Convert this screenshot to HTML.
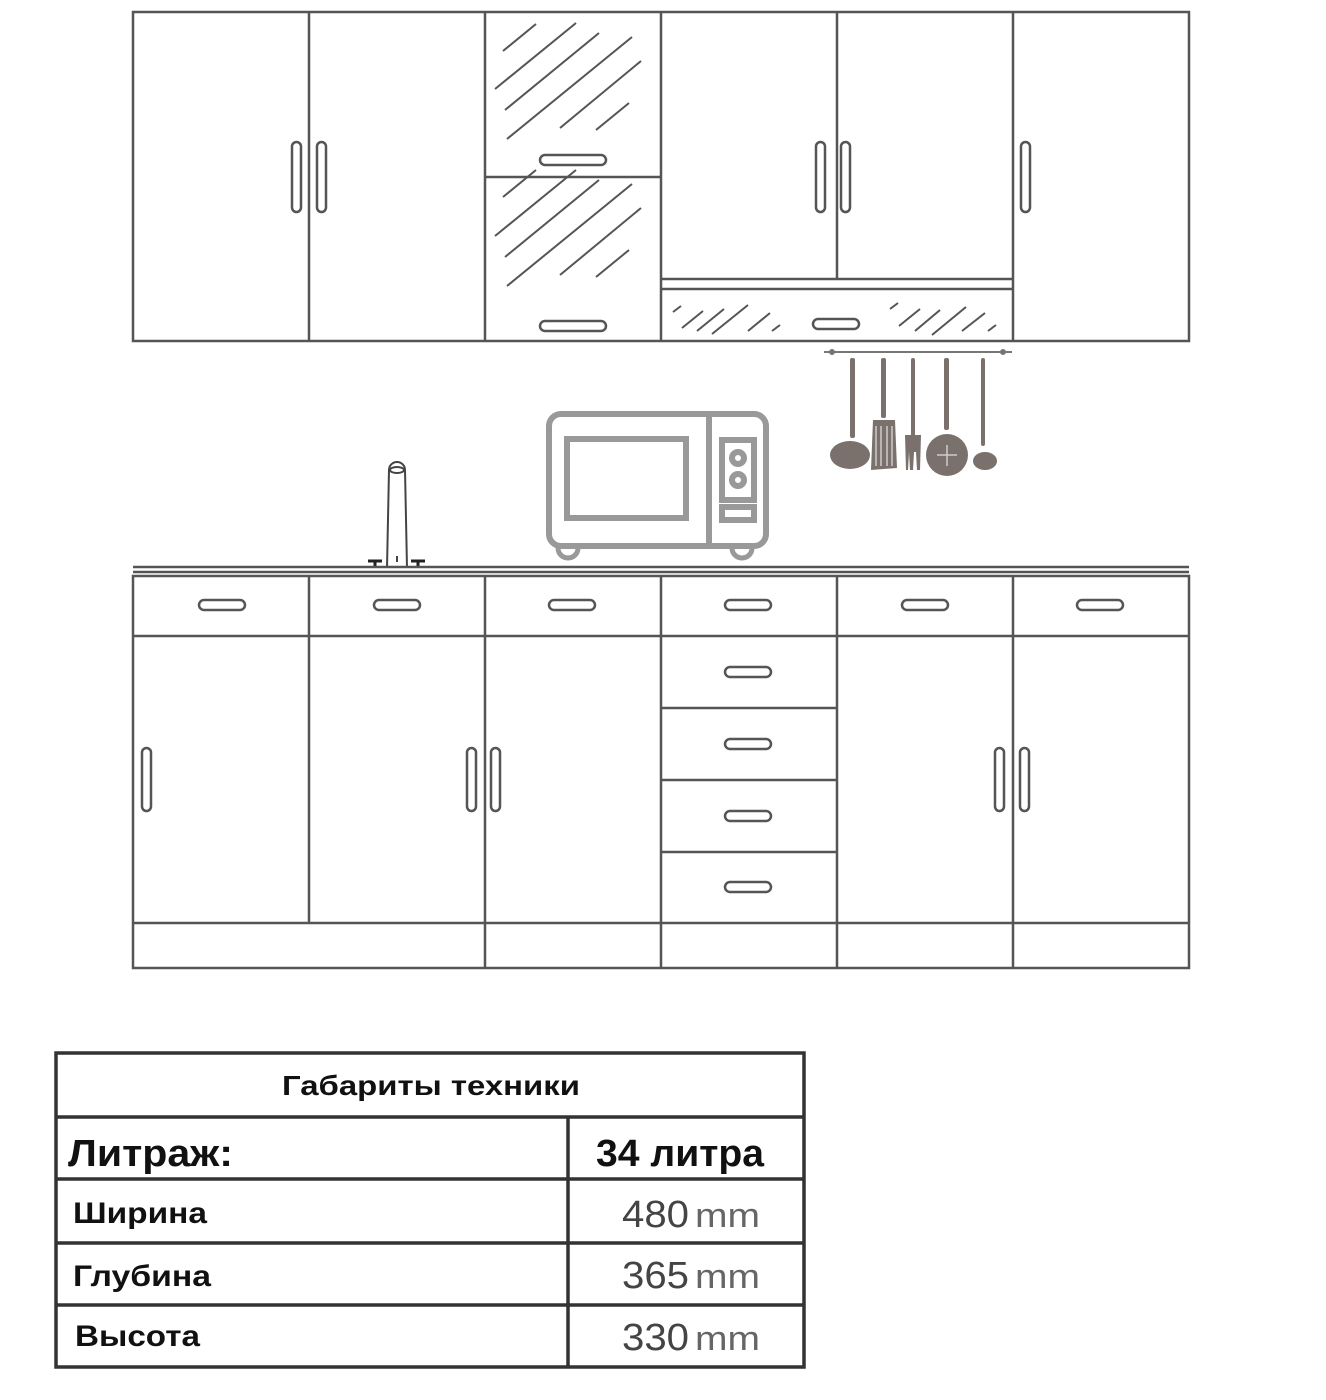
<!DOCTYPE html>
<html><head><meta charset="utf-8"><style>
html,body{margin:0;padding:0;background:#fff;}
svg{display:block;}
</style></head><body>
<svg width="1326" height="1400" viewBox="0 0 1326 1400" xmlns="http://www.w3.org/2000/svg">
<g fill="none" stroke="#555" stroke-width="2.5">
<rect x="133" y="12" width="1056" height="329"/>
<line x1="309" y1="12" x2="309" y2="341"/>
<line x1="485" y1="12" x2="485" y2="341"/>
<line x1="661" y1="12" x2="661" y2="341"/>
<line x1="837" y1="12" x2="837" y2="279"/>
<line x1="1013" y1="12" x2="1013" y2="341"/>
<line x1="485" y1="177" x2="661" y2="177"/>
<line x1="661" y1="279" x2="1013" y2="279"/>
<line x1="661" y1="289" x2="1013" y2="289"/>
<rect x="292" y="142" width="9" height="70" rx="4.5"/>
<rect x="317" y="142" width="9" height="70" rx="4.5"/>
<rect x="816" y="142" width="9" height="70" rx="4.5"/>
<rect x="841" y="142" width="9" height="70" rx="4.5"/>
<rect x="1021" y="142" width="9" height="70" rx="4.5"/>
<rect x="540" y="155" width="66" height="10" rx="5"/>
<rect x="540" y="321" width="66" height="10" rx="5"/>
<rect x="813" y="319" width="46" height="10" rx="5"/>
</g>
<g stroke="#555" stroke-width="2">
<line x1="503" y1="51" x2="536" y2="24"/>
<line x1="495" y1="89" x2="576" y2="23"/>
<line x1="505" y1="110" x2="599" y2="33"/>
<line x1="507" y1="139" x2="632" y2="37"/>
<line x1="560" y1="128" x2="641" y2="61"/>
<line x1="596" y1="130" x2="629" y2="103"/>
<line x1="503" y1="197" x2="536" y2="170"/>
<line x1="495" y1="236" x2="576" y2="170"/>
<line x1="505" y1="257" x2="599" y2="180"/>
<line x1="507" y1="286" x2="632" y2="184"/>
<line x1="560" y1="275" x2="641" y2="208"/>
<line x1="596" y1="277" x2="629" y2="250"/>
<line x1="673" y1="312" x2="681" y2="306"/>
<line x1="682" y1="328" x2="703" y2="311"/>
<line x1="697" y1="331" x2="724" y2="309"/>
<line x1="712" y1="334" x2="748" y2="305"/>
<line x1="748" y1="331" x2="770" y2="313"/>
<line x1="772" y1="331" x2="780" y2="325"/>
<line x1="890" y1="309" x2="898" y2="303"/>
<line x1="899" y1="326" x2="920" y2="309"/>
<line x1="915" y1="331" x2="940" y2="310"/>
<line x1="932" y1="335" x2="966" y2="307"/>
<line x1="962" y1="331" x2="985" y2="313"/>
<line x1="988" y1="331" x2="996" y2="325"/>
</g>
<!-- rail and utensils -->
<g stroke="#777" stroke-width="2" fill="#7a716c">
<line x1="824" y1="352" x2="1012" y2="352"/>
<circle cx="832" cy="352" r="2"/><circle cx="1003" cy="352" r="2"/>
</g>
<g fill="#7a716c">
<rect x="850" y="358" width="5" height="80" rx="2"/>
<ellipse cx="850" cy="455" rx="20" ry="14"/>
<rect x="881" y="358" width="5" height="60" rx="2"/>
<path d="M873 420 L895 420 L897 468 L871 470 Z"/>
<rect x="911" y="358" width="4" height="80" rx="2"/>
<path d="M905 435 L921 435 L920 470 L917 470 L916 452 L914 452 L913 470 L910 470 L909 452 L908 470 L906 470 Z"/>
<rect x="944" y="358" width="5" height="72" rx="2"/>
<circle cx="947" cy="455" r="21"/>
<rect x="981" y="358" width="4" height="88" rx="2"/>
<ellipse cx="985" cy="461" rx="12" ry="9"/>
</g>
<g stroke="#ccc" stroke-width="1.5">
<line x1="876" y1="426" x2="876" y2="466"/><line x1="881" y1="426" x2="881" y2="466"/><line x1="887" y1="426" x2="887" y2="466"/><line x1="892" y1="426" x2="892" y2="466"/>
<line x1="937" y1="455" x2="957" y2="455"/><line x1="947" y1="445" x2="947" y2="466"/>
</g>
<!-- microwave -->
<g fill="none" stroke="#999" stroke-width="6">
<rect x="549" y="414" width="217" height="132" rx="12"/>
<rect x="567" y="439" width="119" height="79"/>
<line x1="709" y1="414" x2="709" y2="546"/>
<rect x="722" y="440" width="32" height="60"/>
<circle cx="738" cy="458" r="6"/>
<circle cx="738" cy="480" r="6"/>
<rect x="722" y="507" width="32" height="13"/>
</g>
<g fill="none" stroke="#999" stroke-width="5">
<path d="M558 548 A9 9 0 1 0 578 548"/>
<path d="M732 548 A9 9 0 1 0 752 548"/>
</g>
<!-- faucet -->
<g fill="none" stroke="#444" stroke-width="2">
<path d="M387 568 L389 470 A8 8 0 0 1 405 470 L407 568"/>
<ellipse cx="397" cy="470" rx="7" ry="3"/>
<line x1="397" y1="556" x2="397" y2="562"/>
</g>
<g stroke="#222" stroke-width="3">
<line x1="368" y1="561" x2="382" y2="561"/><line x1="375" y1="561" x2="375" y2="568"/>
<line x1="411" y1="561" x2="425" y2="561"/><line x1="418" y1="561" x2="418" y2="568"/>
</g>
<!-- counter & lower -->
<g fill="none" stroke="#555" stroke-width="2.5">
<line x1="133" y1="567" x2="1189" y2="567"/>
<line x1="133" y1="572" x2="1189" y2="572"/>
<rect x="133" y="576" width="1056" height="392"/>
<line x1="133" y1="636" x2="1189" y2="636"/>
<line x1="133" y1="923" x2="1189" y2="923"/>
<line x1="309" y1="576" x2="309" y2="923"/>
<line x1="485" y1="576" x2="485" y2="968"/>
<line x1="661" y1="576" x2="661" y2="968"/>
<line x1="837" y1="576" x2="837" y2="968"/>
<line x1="1013" y1="576" x2="1013" y2="968"/>
<line x1="661" y1="708" x2="837" y2="708"/>
<line x1="661" y1="780" x2="837" y2="780"/>
<line x1="661" y1="852" x2="837" y2="852"/>
<rect x="199" y="600" width="46" height="10" rx="5"/>
<rect x="374" y="600" width="46" height="10" rx="5"/>
<rect x="549" y="600" width="46" height="10" rx="5"/>
<rect x="725" y="600" width="46" height="10" rx="5"/>
<rect x="902" y="600" width="46" height="10" rx="5"/>
<rect x="1077" y="600" width="46" height="10" rx="5"/>
<rect x="725" y="667" width="46" height="10" rx="5"/>
<rect x="725" y="739" width="46" height="10" rx="5"/>
<rect x="725" y="811" width="46" height="10" rx="5"/>
<rect x="725" y="882" width="46" height="10" rx="5"/>
<rect x="142" y="748" width="9" height="63" rx="4.5"/>
<rect x="467" y="748" width="9" height="63" rx="4.5"/>
<rect x="491" y="748" width="9" height="63" rx="4.5"/>
<rect x="995" y="748" width="9" height="63" rx="4.5"/>
<rect x="1020" y="748" width="9" height="63" rx="4.5"/>
</g>
<!-- table -->
<g fill="none" stroke="#333" stroke-width="3.5">
<rect x="56" y="1053" width="748" height="314"/>
<line x1="56" y1="1117" x2="804" y2="1117"/>
<line x1="56" y1="1179" x2="804" y2="1179"/>
<line x1="56" y1="1243" x2="804" y2="1243"/>
<line x1="56" y1="1305" x2="804" y2="1305"/>
<line x1="568" y1="1117" x2="568" y2="1367"/>
</g>
<g font-family="Liberation Sans, sans-serif" font-weight="bold" fill="#111">
<text x="282" y="1095" font-size="28" textLength="298" lengthAdjust="spacingAndGlyphs">Габариты техники</text>
<text x="68" y="1166" font-size="38" textLength="165" lengthAdjust="spacingAndGlyphs">Литраж:</text>
<text x="596" y="1166" font-size="38" textLength="168" lengthAdjust="spacingAndGlyphs">34 литра</text>
<text x="73" y="1223" font-size="30" textLength="134" lengthAdjust="spacingAndGlyphs">Ширина</text>
<text x="73" y="1286" font-size="30" textLength="138" lengthAdjust="spacingAndGlyphs">Глубина</text>
<text x="75" y="1346" font-size="30" textLength="125" lengthAdjust="spacingAndGlyphs">Высота</text>
</g>
<g font-family="Liberation Sans, sans-serif">
<text x="622" y="1227" font-size="38" fill="#444" textLength="67" lengthAdjust="spacingAndGlyphs">480</text>
<text x="695" y="1227" font-size="34" fill="#666" textLength="65" lengthAdjust="spacingAndGlyphs">mm</text>
<text x="622" y="1288" font-size="38" fill="#444" textLength="67" lengthAdjust="spacingAndGlyphs">365</text>
<text x="695" y="1288" font-size="34" fill="#666" textLength="65" lengthAdjust="spacingAndGlyphs">mm</text>
<text x="622" y="1350" font-size="38" fill="#444" textLength="67" lengthAdjust="spacingAndGlyphs">330</text>
<text x="695" y="1350" font-size="34" fill="#666" textLength="65" lengthAdjust="spacingAndGlyphs">mm</text>
</g>
</svg>
</body></html>
